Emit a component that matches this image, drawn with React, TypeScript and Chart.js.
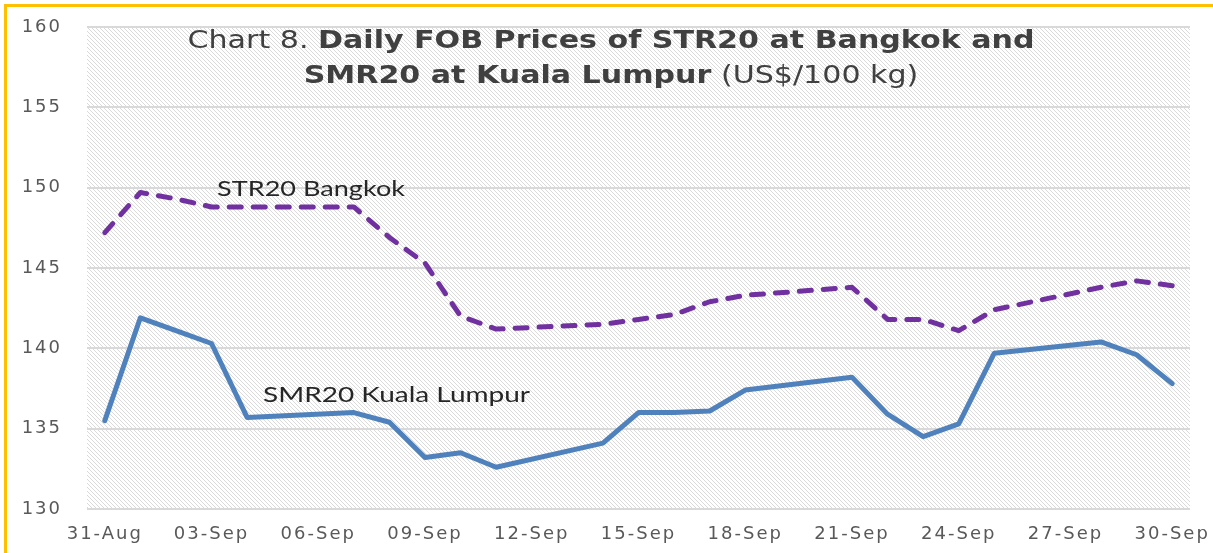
import React, { useEffect, useRef } from 'react';
import { Chart, registerables } from 'chart.js';

Chart.register(...registerables);

// Every calendar day on the date axis
const axisDays = [
  '31-Aug', '01-Sep', '02-Sep', '03-Sep', '04-Sep', '05-Sep', '06-Sep', '07-Sep',
  '08-Sep', '09-Sep', '10-Sep', '11-Sep', '12-Sep', '13-Sep', '14-Sep', '15-Sep',
  '16-Sep', '17-Sep', '18-Sep', '19-Sep', '20-Sep', '21-Sep', '22-Sep', '23-Sep',
  '24-Sep', '25-Sep', '26-Sep', '27-Sep', '28-Sep', '29-Sep', '30-Sep',
];
// Labelled ticks
const tickDays = ['31-Aug', '03-Sep', '06-Sep', '09-Sep', '12-Sep', '15-Sep', '18-Sep', '21-Sep', '24-Sep', '27-Sep', '30-Sep'];

// Trading days with prices
const dates = [
  '31-Aug', '01-Sep', '02-Sep', '03-Sep', '04-Sep', '07-Sep', '08-Sep', '09-Sep',
  '10-Sep', '11-Sep', '14-Sep', '15-Sep', '16-Sep', '17-Sep', '18-Sep', '21-Sep',
  '22-Sep', '23-Sep', '24-Sep', '25-Sep', '28-Sep', '29-Sep', '30-Sep',
];
const str20Bangkok = [
  147.2, 149.7, 149.3, 148.8, 148.8, 148.8, 146.9, 145.3,
  142.0, 141.2, 141.5, 141.8, 142.1, 142.9, 143.3, 143.8,
  141.8, 141.8, 141.1, 142.4, 143.8, 144.2, 143.9,
];
const smr20KualaLumpur = [
  135.5, 141.9, 141.1, 140.3, 135.7, 136.0, 135.4, 133.2,
  133.5, 132.6, 134.1, 136.0, 136.0, 136.1, 137.4, 138.2,
  135.9, 134.5, 135.3, 139.7, 140.4, 139.6, 137.8,
];
const yMin = 130;
const yMax = 160;
const yStep = 5;

const titleLine1 = [
  { text: 'Chart 8. ', bold: false },
  { text: 'Daily FOB Prices of STR20 at Bangkok and', bold: true },
];
const titleLine2 = [
  { text: 'SMR20 at Kuala Lumpur', bold: true },
  { text: ' (US$/100 kg)', bold: false },
];
const strLabel = 'STR20 Bangkok';
const smrLabel = 'SMR20 Kuala Lumpur';

type Run = { text: string; bold: boolean };

function runsWidth(ctx: CanvasRenderingContext2D, runs: Run[], size: number, family: string) {
  let w = 0;
  for (const r of runs) {
    ctx.font = `${r.bold ? 'bold ' : ''}${size}px ${family}`;
    w += ctx.measureText(r.text).width;
  }
  return w;
}

// Draws text runs horizontally stretched by sx (the source graphic is stretched)
function drawRuns(
  ctx: CanvasRenderingContext2D,
  runs: Run[],
  x: number,
  baseline: number,
  size: number,
  family: string,
  color: string,
  sx: number,
  align: 'left' | 'center',
) {
  ctx.save();
  (ctx as any).letterSpacing = '0px';
  ctx.fillStyle = color;
  ctx.textAlign = 'left';
  ctx.textBaseline = 'alphabetic';
  const w = runsWidth(ctx, runs, size, family) * sx;
  const x0 = align === 'center' ? x - w / 2 : x;
  ctx.translate(x0, baseline);
  ctx.scale(sx, 1);
  let cx = 0;
  for (const r of runs) {
    ctx.font = `${r.bold ? 'bold ' : ''}${size}px ${family}`;
    ctx.fillText(r.text, cx, 0);
    cx += ctx.measureText(r.text).width;
  }
  ctx.restore();
}

function fitScale(ctx: CanvasRenderingContext2D, runs: Run[], size: number, family: string, target: number) {
  ctx.save();
  (ctx as any).letterSpacing = '0px';
  const w = runsWidth(ctx, runs, size, family);
  ctx.restore();
  return target / w;
}

function makeHatch(): CanvasPattern | string {
  const c = document.createElement('canvas');
  c.width = 4;
  c.height = 4;
  const g = c.getContext('2d');
  if (!g) return '#eeeeee';
  g.fillStyle = '#ffffff';
  g.fillRect(0, 0, 4, 4);
  g.fillStyle = '#dadada';
  for (let i = 0; i < 4; i++) g.fillRect(i, i, 1, 1);
  const p = g.createPattern(c, 'repeat');
  return p || '#eeeeee';
}

const TICK_SPACING = '2px';

const decorPlugin = {
  id: 'decor',
  beforeUpdate(chart: any) {
    chart.ctx.letterSpacing = TICK_SPACING;
  },
  beforeDraw(chart: any) {
    const { ctx, chartArea, width, height } = chart;
    ctx.save();
    ctx.fillStyle = '#ffffff';
    ctx.fillRect(0, 0, width, height);
    ctx.fillStyle = makeHatch();
    ctx.fillRect(chartArea.left, chartArea.top, chartArea.right - chartArea.left, chartArea.bottom - chartArea.top);
    ctx.restore();
    ctx.letterSpacing = TICK_SPACING;
  },
  afterDraw(chart: any) {
    const { ctx, width, height } = chart;
    const fam = '"DejaVu Sans"';
    const sx = fitScale(ctx, titleLine1, 25, fam, 847);
    drawRuns(ctx, titleLine1, 611, 48, 25, fam, '#404040', sx, 'center');
    drawRuns(ctx, titleLine2, 611, 83, 25, fam, '#404040', sx, 'center');

    const lfam = 'Lato';
    const s1 = fitScale(ctx, [{ text: strLabel, bold: false }], 22, lfam, 188);
    drawRuns(ctx, [{ text: strLabel, bold: false }], 217, 196, 22, lfam, '#262626', s1, 'left');
    const s2 = fitScale(ctx, [{ text: smrLabel, bold: false }], 22, lfam, 267);
    drawRuns(ctx, [{ text: smrLabel, bold: false }], 263, 402, 22, lfam, '#262626', s2, 'left');

    ctx.save();
    ctx.fillStyle = '#FFC000';
    ctx.fillRect(4, 4, width - 4, 3);
    ctx.fillRect(4, 4, 3, height - 4);
    ctx.restore();
  },
};

export default function App() {
  const ref = useRef<HTMLCanvasElement | null>(null);

  useEffect(() => {
    document.body.style.margin = '0';
    const canvas = ref.current;
    if (!canvas) return;
    const chart = new Chart(canvas, {
      type: 'line',
      data: {
        labels: axisDays,
        datasets: [
          {
            label: 'SMR20 Kuala Lumpur',
            data: dates.map((d, i) => ({ x: d, y: smr20KualaLumpur[i] })),
            borderColor: '#4F81BD',
            borderWidth: 5,
            pointRadius: 0,
            tension: 0,
            borderJoinStyle: 'round',
            borderCapStyle: 'round',
          },
          {
            label: 'STR20 Bangkok',
            data: dates.map((d, i) => ({ x: d, y: str20Bangkok[i] })),
            borderColor: '#7030A0',
            borderWidth: 5,
            borderDash: [12, 12],
            borderCapStyle: 'round',
            borderJoinStyle: 'round',
            pointRadius: 0,
            tension: 0,
          },
        ],
      } as any,
      options: {
        animation: false,
        responsive: false,
        devicePixelRatio: 1,
        layout: { padding: { top: 27, right: 23, left: 0, bottom: 0 } },
        plugins: {
          legend: { display: false },
          title: { display: false },
          tooltip: { enabled: false },
        },
        scales: {
          x: {
            type: 'category',
            offset: true,
            grid: { display: false, drawTicks: false },
            border: { display: false },
            afterFit: (s: any) => {
              s.height = 44;
              s.paddingLeft = 0;
              s.paddingRight = 0;
            },
            ticks: {
              autoSkip: false,
              maxRotation: 0,
              minRotation: 0,
              padding: 15,
              color: '#595959',
              font: { family: '"DejaVu Sans"', size: 18 },
              callback: (_v: any, i: number) => (tickDays.includes(axisDays[i]) ? axisDays[i] : ''),
            },
          },
          y: {
            min: yMin,
            max: yMax,
            grid: { color: '#d9d9d9', lineWidth: 2, drawTicks: false },
            border: { display: false },
            afterFit: (s: any) => {
              s.width = 87;
              s.paddingTop = 0;
              s.paddingBottom = 0;
            },
            ticks: {
              stepSize: yStep,
              padding: 25,
              color: '#595959',
              font: { family: '"DejaVu Sans"', size: 18 },
            },
          },
        },
      } as any,
      plugins: [decorPlugin],
    });
    return () => chart.destroy();
  }, []);

  return (
    <div style={{ position: 'absolute', left: 0, top: 0, width: 1213, height: 553 }}>
      <canvas ref={ref} width={1213} height={553} style={{ display: 'block', width: 1213, height: 553 }} />
    </div>
  );
}
